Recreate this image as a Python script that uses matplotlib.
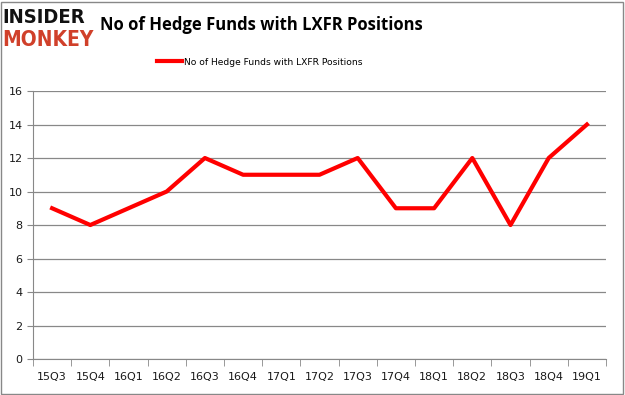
import matplotlib
matplotlib.use("Agg")
import matplotlib.pyplot as plt
from matplotlib.patches import Rectangle

quarters = ["15Q3", "15Q4", "16Q1", "16Q2", "16Q3", "16Q4", "17Q1", "17Q2",
            "17Q3", "17Q4", "18Q1", "18Q2", "18Q3", "18Q4", "19Q1"]
hedge_funds = [9, 8, 9, 10, 12, 11, 11, 11, 12, 9, 9, 12, 8, 12, 14]
y_ticks = [0, 2, 4, 6, 8, 10, 12, 14, 16]
series_label = "No of Hedge Funds with LXFR Positions"

fig = plt.figure(figsize=(6.25, 3.95), dpi=100)
ax = fig.add_axes([0.0528, 0.0911, 0.9168, 0.6785])

x = list(range(len(quarters)))
ax.plot(x, hedge_funds, color="#ff0000", linewidth=3, label=series_label)

ax.set_xlim(-0.5, len(quarters) - 0.5)
ax.set_ylim(0, 16)
ax.set_yticks(y_ticks)
ax.set_xticks(x)
ax.set_xticklabels(quarters)
ax.set_xticks([i - 0.5 for i in range(len(quarters) + 1)], minor=True)
ax.tick_params(axis="x", which="major", length=0, pad=9, labelsize=8, labelcolor="#1a1a1a")
ax.tick_params(axis="x", which="minor", length=5, color="#888888")
ax.tick_params(axis="y", length=4, color="#888888", labelsize=8, labelcolor="#1a1a1a")
ax.grid(axis="y", color="#888888", linewidth=0.9)
ax.set_axisbelow(True)
for side in ["top", "right"]:
    ax.spines[side].set_visible(False)
for side in ["left", "bottom"]:
    ax.spines[side].set_color("#888888")

# title and legend
fig.text(0.418, 0.937, series_label, ha="center", va="center",
         fontsize=12, fontweight="bold", family="Open Sans")
ax.legend(loc="center", bbox_to_anchor=(0.396, 1.108), frameon=False,
          fontsize=6.6, handlelength=2.7, handletextpad=0.3)

# logo
fig.text(0.004, 0.955, "INSIDER", ha="left", va="center", fontsize=14.5,
         fontweight="heavy", color="#111111", family="DejaVu Sans",
         fontstretch="condensed")
fig.text(0.004, 0.9, "MONKEY", ha="left", va="center", fontsize=15,
         fontweight="heavy", color="#d0402a", family="DejaVu Sans",
         fontstretch="condensed")

# outer frame
fig.patches.append(Rectangle((0.002, 0.003), 0.995, 0.993, transform=fig.transFigure,
                             fill=False, edgecolor="#888888", linewidth=1))

fig.savefig("out.png", dpi=100)
